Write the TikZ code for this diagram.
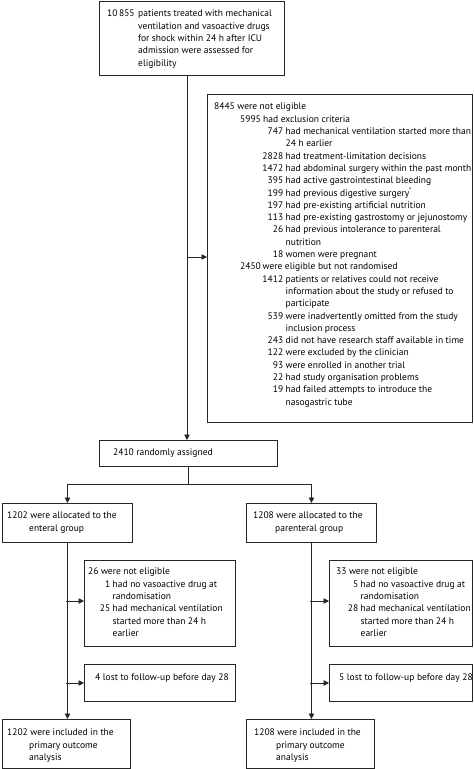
\documentclass[tikz,border=0pt]{standalone}
\usepackage{fontspec}
\setmainfont{PT Sans}
\usetikzlibrary{arrows.meta}
\newcommand\rA[3]{\hbox{\hbox to #1{#2\hss}#3}}
\newcommand\rN[1]{\hbox{#1}}
\newcommand\rB[4]{\hbox{\hskip#1\relax\hbox to #2{#3\hss}#4}}
\newcommand\rR[3]{\hbox{\hbox to #1{\hss#2}\hskip2.5pt\relax #3}}
\newcommand\rC[2]{\hbox{\hskip#1\relax #2}}
\tikzset{
  boxst/.style={draw=black!85, line width=0.9pt, anchor=north west, inner sep=0pt},
  txt/.style={anchor=north west, inner sep=0pt, font=\fontsize{9.5}{12.3}\selectfont},
  arr/.style={draw=black!85, line width=0.9pt, -{Triangle[length=5.5pt,width=5.5pt]}},
  ln/.style={draw=black!85, line width=0.9pt}
}
\begin{document}
\begin{tikzpicture}[x=1pt,y=-1pt]
\useasboundingbox (0,0) rectangle (474,769);
% boxes
\node[boxst, minimum width=185pt, minimum height=74pt] (top) at (99,1) {};
\node[boxst, minimum width=265pt, minimum height=328pt] (big) at (207,94) {};
\node[boxst, minimum width=178pt, minimum height=26pt] (rand) at (99,440) {};
\node[boxst, minimum width=130pt, minimum height=39pt] (la) at (2,503) {};
\node[boxst, minimum width=130pt, minimum height=39pt] (ra) at (246,503) {};
\node[boxst, minimum width=151pt, minimum height=86pt] (le) at (84,560) {};
\node[boxst, minimum width=151pt, minimum height=37pt] (ll) at (84,664) {};
\node[boxst, minimum width=128pt, minimum height=49pt] (lf) at (2,719) {};
\node[boxst, minimum width=143pt, minimum height=86pt] (re) at (329,560) {};
\node[boxst, minimum width=143pt, minimum height=37pt] (rl) at (329,664) {};
\node[boxst, minimum width=128pt, minimum height=49pt] (rf) at (246,719) {};
% texts
\node[txt] (ttop) at (107,10) {\vtop{%
\rA{31pt}{10\,855}{patients treated with mechanical}
\rC{31pt}{ventilation and vasoactive drugs}
\rC{31pt}{for shock within 24 h after ICU}
\rC{31pt}{admission were assessed for}
\rC{31pt}{eligibility}}};
\node[txt] (tbig) at (214,103) {\vtop{%
\rN{8445 were not eligible}
\rB{26pt}{23pt}{5995}{had exclusion criteria}
\rR{69pt}{747}{had mechanical ventilation started more than}
\rC{71.5pt}{24 h earlier}
\rR{69pt}{2828}{had treatment-limitation decisions}
\rR{69pt}{1472}{had abdominal surgery within the past month}
\rR{69pt}{395}{had active gastrointestinal bleeding}
\rR{69pt}{199}{had previous digestive surgery\textsuperscript{*}}
\rR{69pt}{197}{had pre-existing artificial nutrition}
\rR{69pt}{113}{had pre-existing gastrostomy or jejunostomy}
\rR{69pt}{26}{had previous intolerance to parenteral}
\rC{71.5pt}{nutrition}
\rR{69pt}{18}{women were pregnant}
\rB{26pt}{22.5pt}{2450}{were eligible but not randomised}
\rR{69pt}{1412}{patients or relatives could not receive}
\rC{71.5pt}{information about the study or refused to}
\rC{71.5pt}{participate}
\rR{69pt}{539}{were inadvertently omitted from the study}
\rC{71.5pt}{inclusion process}
\rR{69pt}{243}{did not have research staff available in time}
\rR{69pt}{122}{were excluded by the clinician}
\rR{69pt}{93}{were enrolled in another trial}
\rR{69pt}{22}{had study organisation problems}
\rR{69pt}{19}{had failed attempts to introduce the}
\rC{71.5pt}{nasogastric tube}}};
\node[txt] (trand) at (113,449) {\vtop{\rN{2410 randomly assigned}}};
\node[txt] (tla) at (7,512) {\vtop{%
\rN{1202 were allocated to the}
\rC{22pt}{enteral group}}};
\node[txt] (tra) at (253,512) {\vtop{%
\rN{1208 were allocated to the}
\rC{22pt}{parenteral group}}};
\node[txt] (tle) at (88,568) {\vtop{%
\rN{26 were not eligible}
\rR{22pt}{1}{had no vasoactive drug at}
\rC{24.5pt}{randomisation}
\rR{22pt}{25}{had mechanical ventilation}
\rC{24.5pt}{started more than 24 h}
\rC{24.5pt}{earlier}}};
\node[txt] (tre) at (336,568) {\vtop{%
\rN{33 were not eligible}
\rR{22pt}{5}{had no vasoactive drug at}
\rC{24.5pt}{randomisation}
\rR{22pt}{28}{had mechanical ventilation}
\rC{24.5pt}{started more than 24 h}
\rC{24.5pt}{earlier}}};
\node[txt] (tll) at (95,674) {\vtop{\rN{4 lost to follow-up before day 28}}};
\node[txt] (trl) at (339,674) {\vtop{\rN{5 lost to follow-up before day 28}}};
\node[txt] (tlf) at (7,729) {\vtop{%
\rN{1202 were included in the}
\rC{22pt}{primary outcome}
\rC{22pt}{analysis}}};
\node[txt] (trf) at (254,729) {\vtop{%
\rN{1208 were included in the}
\rC{22pt}{primary outcome}
\rC{22pt}{analysis}}};
% connectors
\coordinate (trunk) at (187,75);
\coordinate (bigin) at (187,257);
\coordinate (split) at (188,484);
\coordinate (lin1) at (66,601);
\coordinate (lin2) at (66,683);
\coordinate (rin1) at (310,601);
\coordinate (rin2) at (310,683);
\draw[arr] (trunk) -- (trunk |- rand.north);
\draw[arr] (bigin) -- (bigin -| big.west);
\draw[ln] (rand.south -| split) -- (split);
\draw[arr] (split) -| (la.north);
\draw[arr] (split) -| (ra.north);
\draw[arr] (la.south) -- (la.south |- lf.north);
\draw[arr] (ra.south) -- (ra.south |- rf.north);
\draw[arr] (lin1) -- (lin1 -| le.west);
\draw[arr] (lin2) -- (lin2 -| ll.west);
\draw[arr] (rin1) -- (rin1 -| re.west);
\draw[arr] (rin2) -- (rin2 -| rl.west);
\end{tikzpicture}
\end{document}
